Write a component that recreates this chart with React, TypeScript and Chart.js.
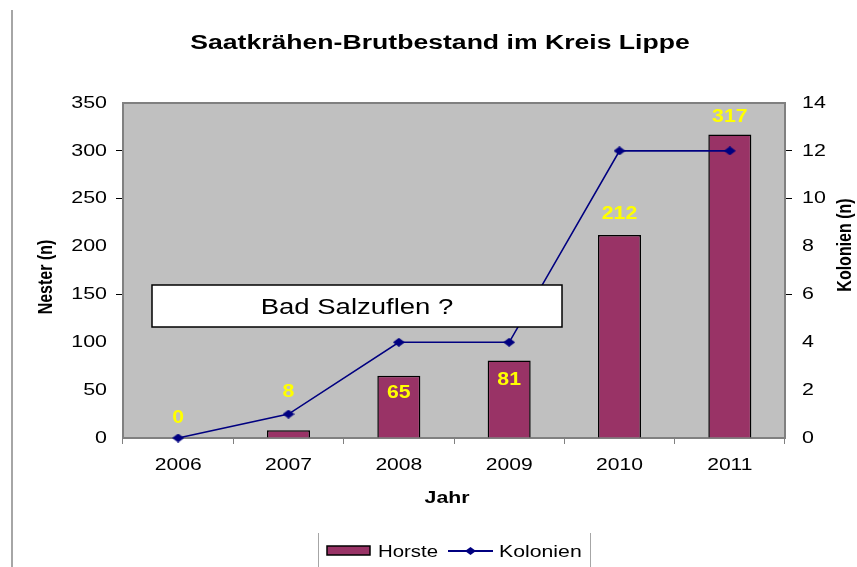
import React, { useEffect, useRef } from "react";
import { Chart, registerables } from "chart.js";

Chart.register(...registerables);

// ---- data ----
const categories = ["2006", "2007", "2008", "2009", "2010", "2011"];
const horste = [0, 8, 65, 81, 212, 317];
const kolonien = [0, 1, 4, 4, 12, 12];
const nesterTickStep = 50;
const nesterMax = 350;
const kolonienTickStep = 2;
const kolonienMax = 14;
const nesterTickMarks = [300, 250, 150];
const kolonienTickMarks = [12, 10, 6];
// vertical offset (px) of each yellow value label from its bar top
const labelOffsets = [-20, -38, 17, 20, -21, -18];

const TITLE = "Saatkrähen-Brutbestand im Kreis Lippe";
const Y_TITLE = "Nester (n)";
const Y1_TITLE = "Kolonien (n)";
const X_TITLE = "Jahr";
const NOTE = "Bad Salzuflen ?";
const FONT = "'Liberation Sans', Arial, Helvetica, sans-serif";
const BAR_COLOR = "#993366";
const LINE_COLOR = "#000080";

function drawText(
  ctx: CanvasRenderingContext2D,
  text: string,
  x: number,
  y: number,
  font: string,
  align: CanvasTextAlign,
  sx: number,
  color = "#000",
  baseline: CanvasTextBaseline = "middle",
  rotate = 0
) {
  ctx.save();
  ctx.translate(x, y);
  if (rotate) ctx.rotate(rotate);
  if (rotate) ctx.scale(1, sx);
  else ctx.scale(sx, 1);
  ctx.font = font;
  ctx.fillStyle = color;
  ctx.textAlign = align;
  ctx.textBaseline = baseline;
  ctx.fillText(text, 0, 0);
  ctx.restore();
}

function makeDiamond(w: number, h: number, color: string) {
  const c = document.createElement("canvas");
  c.width = w;
  c.height = h;
  const g = c.getContext("2d")!;
  g.fillStyle = color;
  g.beginPath();
  g.moveTo(w / 2, 0);
  g.lineTo(w, h / 2);
  g.lineTo(w / 2, h);
  g.lineTo(0, h / 2);
  g.closePath();
  g.fill();
  return c;
}

const decorPlugin = {
  id: "decor",
  beforeDraw(chart: any) {
    const ctx: CanvasRenderingContext2D = chart.ctx;
    const a = chart.chartArea;
    ctx.save();
    ctx.fillStyle = "#ffffff";
    ctx.fillRect(0, 0, chart.width, chart.height);
    ctx.strokeStyle = "#a6a6a6";
    ctx.lineWidth = 2;
    ctx.beginPath();
    ctx.moveTo(12, 10);
    ctx.lineTo(12, chart.height);
    ctx.stroke();
    ctx.fillStyle = "#c0c0c0";
    ctx.fillRect(a.left, a.top, a.right - a.left, a.bottom - a.top);
    ctx.restore();
  },
  beforeDatasetsDraw(chart: any) {
    const ctx: CanvasRenderingContext2D = chart.ctx;
    const a = chart.chartArea;
    ctx.save();
    ctx.strokeStyle = "#808080";
    ctx.lineWidth = 2;
    ctx.strokeRect(a.left, a.top, a.right - a.left, a.bottom - a.top);
    ctx.restore();
  },
  afterDatasetsDraw(chart: any) {
    const ctx: CanvasRenderingContext2D = chart.ctx;
    const meta = chart.getDatasetMeta(0);
    const yScale = chart.scales.y;
    meta.data.forEach((bar: any, i: number) => {
      const top = yScale.getPixelForValue(horste[i]);
      drawText(ctx, String(horste[i]), bar.x, top + labelOffsets[i], `bold 18px ${FONT}`, "center", 1.18, "#ffff00");
    });
    ctx.save();
    ctx.fillStyle = "#ffffff";
    ctx.fillRect(152, 285, 410, 42);
    ctx.strokeStyle = "#000";
    ctx.lineWidth = 1.5;
    ctx.strokeRect(152, 285, 410, 42);
    ctx.restore();
    drawText(ctx, NOTE, 357, 314, `22px ${FONT}`, "center", 1.25, "#000", "alphabetic");
  },
  afterDraw(chart: any) {
    const ctx: CanvasRenderingContext2D = chart.ctx;
    const a = chart.chartArea;
    const x = chart.scales.x;
    const y = chart.scales.y;
    const y1 = chart.scales.y1;
    drawText(ctx, TITLE, 440, 49, `bold 20px ${FONT}`, "center", 1.33, "#000", "alphabetic");
    y.ticks.forEach((t: any) => {
      drawText(ctx, String(t.value), a.left - 16, y.getPixelForValue(t.value), `17px ${FONT}`, "right", 1.26);
    });
    y1.ticks.forEach((t: any) => {
      drawText(ctx, String(t.value), a.right + 17, y1.getPixelForValue(t.value), `17px ${FONT}`, "left", 1.26);
    });
    categories.forEach((c, i) => {
      drawText(ctx, c, x.getPixelForValue(i), a.bottom + 27, `17px ${FONT}`, "center", 1.24);
    });
    drawText(ctx, X_TITLE, 447, 498, `bold 17px ${FONT}`, "center", 1.25);
    drawText(ctx, Y_TITLE, 46, 277, `bold 16px ${FONT}`, "center", 1.3, "#000", "middle", -Math.PI / 2);
    drawText(ctx, Y1_TITLE, 845, 245, `bold 16px ${FONT}`, "center", 1.3, "#000", "middle", -Math.PI / 2);
    ctx.save();
    ctx.strokeStyle = "#a6a6a6";
    ctx.lineWidth = 1;
    ctx.beginPath();
    ctx.moveTo(318.5, 533);
    ctx.lineTo(318.5, 567);
    ctx.moveTo(590.5, 533);
    ctx.lineTo(590.5, 567);
    ctx.stroke();
    ctx.fillStyle = BAR_COLOR;
    ctx.fillRect(327, 546, 43, 9);
    ctx.strokeStyle = "#000";
    ctx.lineWidth = 1.5;
    ctx.strokeRect(327, 546, 43, 9);
    ctx.strokeStyle = LINE_COLOR;
    ctx.lineWidth = 2;
    ctx.beginPath();
    ctx.moveTo(448, 551);
    ctx.lineTo(493, 551);
    ctx.stroke();
    ctx.fillStyle = LINE_COLOR;
    ctx.beginPath();
    ctx.moveTo(470.5, 547);
    ctx.lineTo(476, 551);
    ctx.lineTo(470.5, 555);
    ctx.lineTo(465, 551);
    ctx.closePath();
    ctx.fill();
    ctx.restore();
    drawText(ctx, "Horste", 378, 557, `17px ${FONT}`, "left", 1.2, "#000", "alphabetic");
    drawText(ctx, "Kolonien", 499, 557, `17px ${FONT}`, "left", 1.25, "#000", "alphabetic");
  },
};

export default function App() {
  const ref = useRef<HTMLCanvasElement | null>(null);

  useEffect(() => {
    document.body.style.margin = "0";
    const canvas = ref.current!;
    const diamond = makeDiamond(12, 9, LINE_COLOR);
    const chart = new Chart(canvas, {
      type: "bar",
      data: {
        labels: categories,
        datasets: [
          {
            type: "bar",
            label: "Horste",
            data: horste,
            backgroundColor: BAR_COLOR,
            borderColor: "#000000",
            borderWidth: 1.5,
            yAxisID: "y",
            order: 1,
            barPercentage: 0.39,
            categoryPercentage: 1,
          },
          {
            type: "line",
            label: "Kolonien",
            data: kolonien,
            borderColor: LINE_COLOR,
            borderWidth: 1.6,
            pointStyle: diamond as any,
            pointRadius: 5,
            pointBackgroundColor: LINE_COLOR,
            pointBorderColor: LINE_COLOR,
            yAxisID: "y1",
            order: 0,
            tension: 0,
            clip: false as any,
          } as any,
        ],
      },
      options: {
        responsive: false,
        animation: false,
        devicePixelRatio: 1,
        layout: { padding: { left: 0, right: 0, top: 103, bottom: 69 } },
        plugins: {
          legend: { display: false },
          title: { display: false },
          tooltip: { enabled: false },
        },
        scales: {
          x: {
            grid: {
              offset: true,
              drawOnChartArea: false,
              drawTicks: true,
              tickLength: 6,
              color: "#808080",
              tickColor: "#808080",
            },
            border: { display: false },
            ticks: { display: false },
            afterFit(s: any) {
              s.height = 60;
            },
          },
          y: {
            position: "left",
            min: 0,
            max: nesterMax,
            ticks: { stepSize: nesterTickStep, display: false },
            grid: {
              drawOnChartArea: false,
              drawTicks: true,
              tickLength: 7,
              tickColor: (c: any) =>
                c.tick && nesterTickMarks.includes(c.tick.value) ? "#000" : "rgba(0,0,0,0)",
            },
            border: { display: false },
            afterFit(s: any) {
              s.width = 123;
            },
          },
          y1: {
            position: "right",
            min: 0,
            max: kolonienMax,
            ticks: { stepSize: kolonienTickStep, display: false },
            grid: {
              drawOnChartArea: false,
              drawTicks: true,
              tickLength: 7,
              tickColor: (c: any) =>
                c.tick && kolonienTickMarks.includes(c.tick.value) ? "#000" : "rgba(0,0,0,0)",
            },
            border: { display: false },
            afterFit(s: any) {
              s.width = 72;
            },
          },
        },
      } as any,
      plugins: [decorPlugin],
    });
    return () => chart.destroy();
  }, []);

  return (
    <div style={{ width: 857, height: 567, position: "relative" }}>
      <canvas ref={ref} width={857} height={567} />
    </div>
  );
}
